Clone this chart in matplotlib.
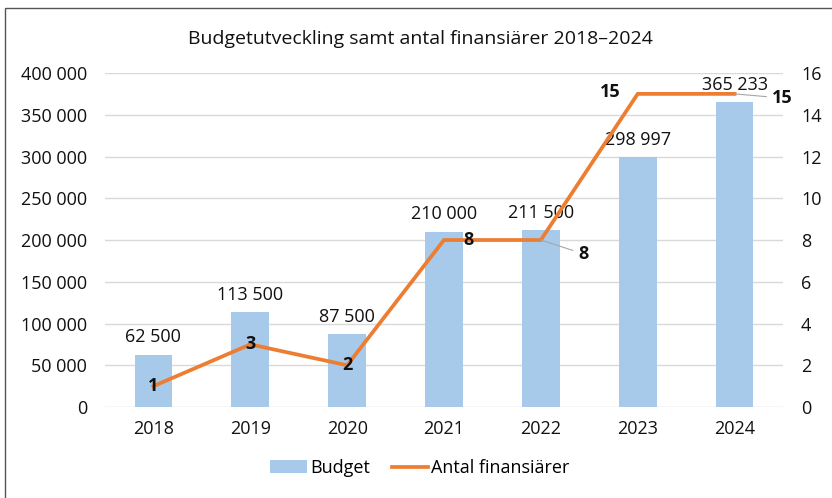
import matplotlib.pyplot as plt
from matplotlib.patches import Rectangle
from matplotlib.ticker import FuncFormatter

plt.rcParams['font.family'] = ['Open Sans', 'DejaVu Sans']

years = ['2018', '2019', '2020', '2021', '2022', '2023', '2024']
budget = [62500, 113500, 87500, 210000, 211500, 298997, 365233]
financiers = [1, 3, 2, 8, 8, 15, 15]

bar_color = '#A7C9EA'
line_color = '#ED7D31'


def space_thousands(v, pos=None):
    return '{:,.0f}'.format(v).replace(',', ' ')


fig = plt.figure(figsize=(8.32, 4.98), dpi=100)
ax = fig.add_axes([0.1262, 0.1827, 0.8149, 0.6707])
ax2 = ax.twinx()

x = list(range(len(years)))
ax.bar(x, budget, width=0.39, color=bar_color, zorder=2, label='Budget')
ax.set_ylim(0, 400000)
ax.set_xlim(-0.5, len(years) - 0.5)
ax.set_yticks(range(0, 400001, 50000))
ax.yaxis.set_major_formatter(FuncFormatter(space_thousands))
ax.grid(axis='y', color='#D9D9D9', linewidth=1, zorder=0)
ax.set_xticks(x)
ax.set_xticklabels(years)

ax2.plot(x, financiers, color=line_color, linewidth=2.7, zorder=3,
         label='Antal finansiärer', solid_joinstyle='miter')
ax2.set_ylim(0, 16)
ax2.set_yticks(range(0, 17, 2))

for a in (ax, ax2):
    for s in a.spines.values():
        s.set_visible(False)
    a.tick_params(length=0, labelsize=13, colors='#111111')
ax.tick_params(axis='x', pad=9)
ax.tick_params(axis='y', pad=13)
ax2.tick_params(axis='y', pad=13)

# bar value labels
for xi, v in zip(x, budget):
    ax.annotate(space_thousands(v), (xi, v), xytext=(0, 6),
                textcoords='offset points', ha='center', va='bottom',
                fontsize=13, color='#111111')

# line value labels
bold = dict(fontsize=13, fontweight='bold', color='#111111')
for i in (0, 1, 2):
    ax2.annotate(str(financiers[i]), (x[i], financiers[i]), ha='center',
                 va='center', zorder=5, **bold)
ax2.annotate(str(financiers[3]), (x[3], financiers[3]), xytext=(14, 0),
             textcoords='offset points', ha='left', va='center', **bold)
ax2.annotate(str(financiers[4]), (x[4], financiers[4]), xytext=(27, -10),
             textcoords='offset points', ha='left', va='center',
             arrowprops=dict(arrowstyle='-', color='#A6A6A6', lw=0.8,
                             shrinkA=2, shrinkB=0), **bold)
ax2.annotate(str(financiers[5]), (x[5], financiers[5]), xytext=(-12, 1),
             textcoords='offset points', ha='right', va='center', **bold)
ax2.annotate(str(financiers[6]), (x[6], financiers[6]), xytext=(27, -3),
             textcoords='offset points', ha='left', va='center',
             arrowprops=dict(arrowstyle='-', color='#A6A6A6', lw=0.8,
                             shrinkA=2, shrinkB=0), **bold)

fig.text(0.505, 0.922, 'Budgetutveckling samt antal finansiärer 2018–2024',
         ha='center', va='center', fontsize=14, color='#111111')

h1, l1 = ax.get_legend_handles_labels()
h2, l2 = ax2.get_legend_handles_labels()
fig.legend(h1 + h2, l1 + l2, loc='center', bbox_to_anchor=(0.505, 0.06),
           ncol=2, frameon=False, fontsize=13, handlelength=2.0,
           handletextpad=0.2, columnspacing=1.2)

fig.patches.append(Rectangle((5 / 832, -0.1), 2, 1 - 8 / 498 + 0.1,
                             transform=fig.transFigure, fill=False,
                             edgecolor='#555555', linewidth=1))

fig.savefig('out.png', dpi=100)
